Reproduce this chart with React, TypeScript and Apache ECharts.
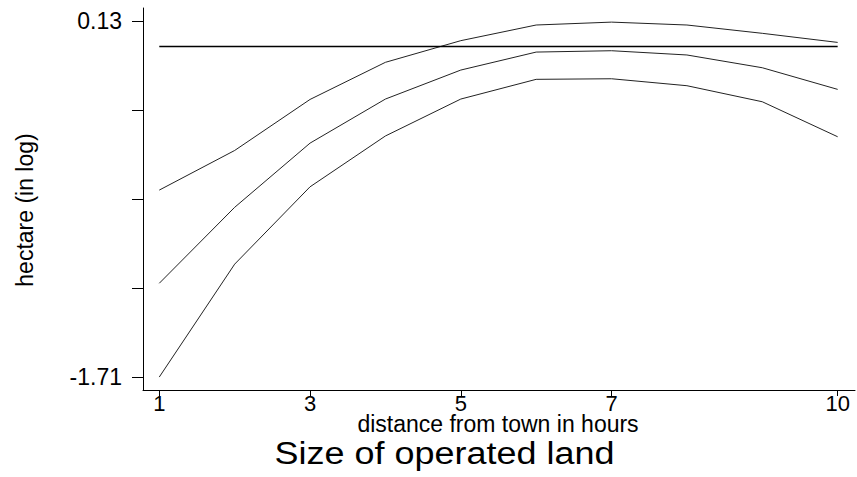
import React, { useEffect, useRef } from "react";
import * as echarts from "echarts";

const hours = [1, 2, 3, 4, 5, 6, 7, 8, 9, 10];
const upperCI = [-0.743, -0.538, -0.274, -0.082, 0.03, 0.111, 0.126, 0.111, 0.068, 0.021];
const fitted = [-1.225, -0.832, -0.5, -0.272, -0.122, -0.029, -0.022, -0.044, -0.11, -0.222];
const lowerCI = [-1.71, -1.126, -0.726, -0.463, -0.272, -0.17, -0.167, -0.203, -0.286, -0.467];
const referenceLevel = 0;
const xTickValues = [1, 3, 5, 7, 10];
const yTickValues = [-1.71, -1.25, -0.79, -0.33, 0.13];
const yLabelValues = [-1.71, 0.13];

const FONT = "'Liberation Sans', Arial, sans-serif";

export default function App() {
  const ref = useRef<HTMLDivElement>(null);
  useEffect(() => {
    if (!ref.current) return;
    const chart = echarts.init(ref.current, null, { renderer: "svg" });
    const pair = (ys: number[]) => hours.map((h, i) => [h, ys[i]]);
    const lineSeries = (name: string, ys: number[]) => ({
      name,
      type: "line",
      data: pair(ys),
      symbol: "none",
      lineStyle: { color: "#222", width: 1 },
      silent: true,
    });
    chart.setOption({
      animation: false,
      backgroundColor: "#fff",
      textStyle: { fontFamily: FONT },
      grid: { left: 143, top: 8, right: 2, bottom: 87, containLabel: false },
      xAxis: {
        type: "value",
        min: 0.784,
        max: 10.23,
        axisLine: { show: true, onZero: false, lineStyle: { color: "#000", width: 1 } },
        axisTick: { show: true, length: 6, customValues: xTickValues, lineStyle: { color: "#000" } },
        axisLabel: {
          customValues: xTickValues,
          margin: 5,
          fontSize: 22,
          lineHeight: 16,
          color: "#000",
          fontFamily: FONT,
        },
        splitLine: { show: false },
      },
      yAxis: {
        type: "value",
        min: -1.777,
        max: 0.199,
        axisLine: { show: true, onZero: false, lineStyle: { color: "#000", width: 1 } },
        axisTick: { show: true, length: 11, customValues: yTickValues, lineStyle: { color: "#000" } },
        axisLabel: {
          customValues: yLabelValues,
          margin: 21,
          fontSize: 23,
          color: "#000",
          fontFamily: FONT,
          formatter: (v: number) => v.toFixed(2),
        },
        splitLine: { show: false },
      },
      graphic: [
        {
          type: "text",
          x: 25,
          y: 210,
          rotation: Math.PI / 2,
          style: {
            text: "hectare (in log)",
            fontSize: 23,
            fontFamily: FONT,
            fill: "#000",
            align: "center",
            verticalAlign: "middle",
          },
        },
        {
          type: "text",
          x: 498,
          y: 424,
          style: {
            text: "distance from town in hours",
            fontSize: 23,
            lineHeight: 16,
            fontFamily: FONT,
            fill: "#000",
            align: "center",
            verticalAlign: "middle",
          },
        },
        {
          type: "text",
          x: 444.5,
          y: 453,
          scaleX: 1.16,
          style: {
            text: "Size of operated land",
            fontSize: 31,
            fontFamily: FONT,
            fill: "#000",
            align: "center",
            verticalAlign: "middle",
          },
        },
      ],
      series: [
        lineSeries("upper", upperCI),
        lineSeries("fitted", fitted),
        lineSeries("lower", lowerCI),
        {
          name: "reference",
          type: "line",
          data: [
            [hours[0], referenceLevel],
            [hours[hours.length - 1], referenceLevel],
          ],
          symbol: "none",
          lineStyle: { color: "#000", width: 1.5 },
          silent: true,
        },
      ],
    });
    return () => chart.dispose();
  }, []);
  return <div ref={ref} style={{ width: 857, height: 477, position: "absolute", left: 0, top: 0 }} />;
}
